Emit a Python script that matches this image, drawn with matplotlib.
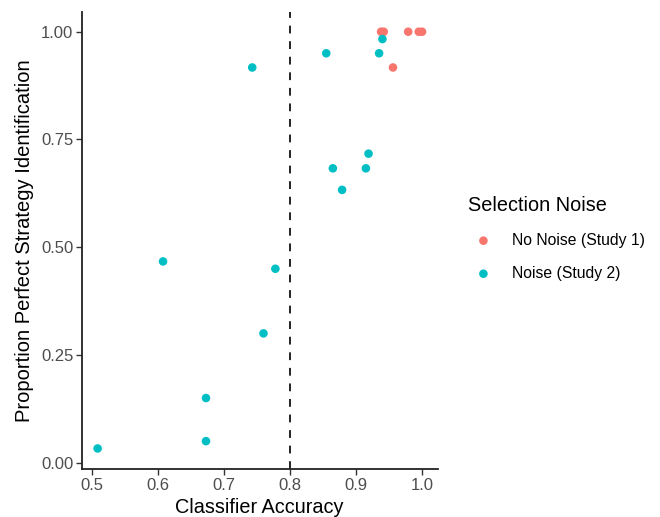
import numpy as np
import matplotlib
matplotlib.use("Agg")
from matplotlib import pyplot as plt

plt.rcParams['font.family'] = ['Liberation Sans', 'DejaVu Sans']

# Study 1: no selection noise
acc_study1 = [0.938, 0.942, 0.979, 0.995, 1.000, 0.956]
prop_study1 = [1.000, 1.000, 1.000, 1.000, 1.000, 0.917]

# Study 2: selection noise
acc_study2 = [0.940, 0.855, 0.935, 0.743, 0.919, 0.865, 0.915, 0.879,
              0.608, 0.778, 0.760, 0.673, 0.673, 0.509]
prop_study2 = [0.983, 0.950, 0.950, 0.917, 0.717, 0.683, 0.683, 0.633,
               0.467, 0.450, 0.300, 0.150, 0.050, 0.033]

group_labels = ['No Noise (Study 1)', 'Noise (Study 2)']
group_colors = ['#F8766D', '#00BFC4']
cutoff = 0.8

x_ticks = [0.5, 0.6, 0.7, 0.8, 0.9, 1.0]
y_ticks = [0.0, 0.25, 0.5, 0.75, 1.0]

fig = plt.figure(figsize=(6.6, 5.17), dpi=100)
ax = fig.add_axes([0.1238, 0.0923, 0.5392, 0.8847])

ax.scatter(acc_study1, prop_study1, s=38, color=group_colors[0],
           edgecolors='none', label=group_labels[0], zorder=3)
ax.scatter(acc_study2, prop_study2, s=38, color=group_colors[1],
           edgecolors='none', label=group_labels[1], zorder=3)
ax.axvline(cutoff, color='#222222', linestyle=(0, (4, 4)), linewidth=1.4, zorder=2)

ax.set_xlim(0.4849, 1.0235)
ax.set_ylim(-0.0153, 1.046)
ax.set_xticks(x_ticks)
ax.set_xticklabels(['0.5', '0.6', '0.7', '0.8', '0.9', '1.0'])
ax.set_yticks(y_ticks)
ax.set_yticklabels(['0.00', '0.25', '0.50', '0.75', '1.00'])

for side in ['top', 'right']:
    ax.spines[side].set_visible(False)
for side in ['left', 'bottom']:
    ax.spines[side].set_linewidth(1.3)
    ax.spines[side].set_color('#222222')
ax.tick_params(axis='both', direction='out', length=4, width=1.0,
               color='#333333', labelcolor='#4D4D4D', labelsize=12, pad=2)

ax.set_xlabel('Classifier Accuracy', fontsize=14.3, color='black', labelpad=4)
ax.set_ylabel('Proportion Perfect Strategy Identification', fontsize=14.5,
              color='black', labelpad=5)

leg = ax.legend(title='Selection Noise', loc='center left',
                bbox_to_anchor=(1.045, 0.505), frameon=False, fontsize=11.3,
                title_fontsize=14.3, markerscale=1.0, handletextpad=0.8,
                labelspacing=1.15)
leg._legend_box.align = 'left'

fig.savefig('out.png', dpi=100)
